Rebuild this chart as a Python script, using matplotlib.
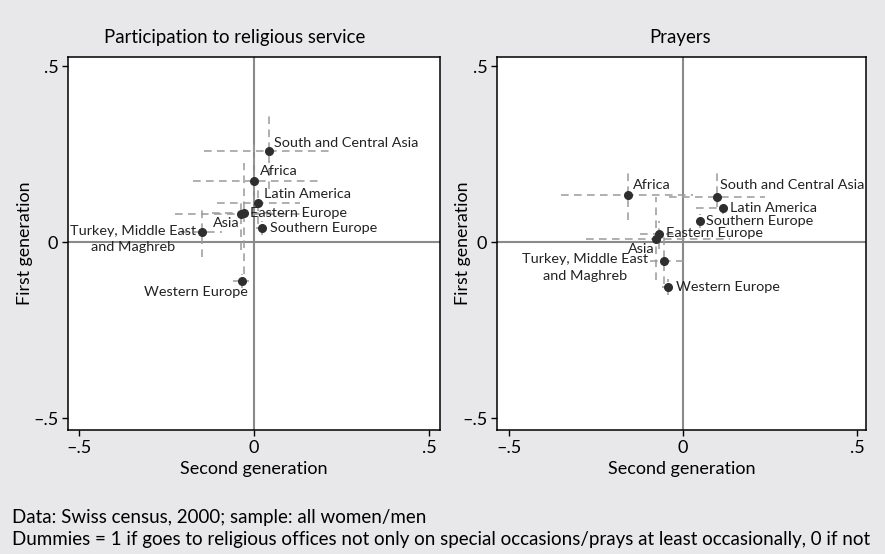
import numpy as np
import matplotlib.pyplot as plt

plt.rcParams['font.family'] = ['Lato', 'DejaVu Sans']

# regions (same order in both panels)
regions = ["South and Central Asia", "Africa", "Latin America", "Eastern Europe",
           "Asia", "Southern Europe", "Turkey, Middle East\nand Maghreb", "Western Europe"]

# Participation to religious service: second gen (x), first gen (y) + CI
part_x = [0.041, 0.000, 0.011, -0.029, -0.039, 0.021, -0.150, -0.034]
part_y = [0.259, 0.174, 0.112, 0.082, 0.079, 0.039, 0.028, -0.111]
part_xlo = [-0.142, -0.174, -0.106, -0.120, -0.225, 0.005, -0.210, -0.060]
part_xhi = [0.221, 0.188, 0.131, 0.060, 0.130, 0.040, -0.092, -0.015]
part_ylo = [0.150, 0.070, 0.050, -0.090, -0.023, 0.020, -0.042, -0.130]
part_yhi = [0.367, 0.280, 0.150, 0.225, 0.119, 0.060, 0.105, -0.090]

# Prayers
pray_x = [0.098, -0.158, 0.114, -0.069, -0.078, 0.049, -0.055, -0.044]
pray_y = [0.128, 0.135, 0.097, 0.022, 0.009, 0.059, -0.054, -0.127]
pray_xlo = [-0.040, -0.349, 0.039, -0.122, -0.277, 0.040, -0.095, -0.060]
pray_xhi = [0.236, 0.030, 0.130, -0.020, 0.135, 0.060, 0.015, -0.025]
pray_ylo = [0.100, 0.062, 0.080, -0.020, -0.108, 0.040, -0.120, -0.150]
pray_yhi = [0.205, 0.210, 0.115, 0.060, 0.129, 0.080, 0.015, -0.105]

ticks = [-0.5, 0, 0.5]
tick_labels = ["\u2013.5", "0", ".5"]

# label placement (offset in points, ha)
part_lab = [(4, 6, 'left'), (4, 7, 'left'), (4, 6, 'left'), (4, 0, 'left'),
            (-1, -6, 'right'), (6, 0, 'left'), (-4, 0, 'right'), (4, -8, 'right')]
pray_lab = [(2, 9, 'left'), (4, 7, 'left'), (5, 0, 'left'), (5, 1, 'left'),
            (-1, -7, 'right'), (4, 0, 'left'), (-11, 0, 'right'), (6, 0, 'left')]

bg = '#e8e8ea'
fig = plt.figure(figsize=(8.85, 5.54), dpi=100, facecolor=bg)


def panel(rect, title, title_x, x, y, xlo, xhi, ylo, yhi, labs, xlim, ylab_x):
    ax = fig.add_axes(rect)
    ax.set_facecolor('white')
    x = np.array(x); y = np.array(y)
    ax.axhline(0, color='#8a8a8a', lw=1.5, zorder=1)
    ax.axvline(0, color='#8a8a8a', lw=1.5, zorder=1)
    eb = ax.errorbar(x, y,
                     xerr=[x - np.array(xlo), np.array(xhi) - x],
                     yerr=[y - np.array(ylo), np.array(yhi) - y],
                     fmt='o', color='#2e2e2e', ms=5.5, ecolor='#9a9a9a',
                     elinewidth=1.1, capsize=0, zorder=3)
    for b in eb[2]:
        b.set_linestyle((0, (5, 3.5)))
    for i, name in enumerate(regions):
        dx, dy, ha = labs[i]
        va = 'center'
        if '\n' in name:
            va = 'top'
            dy = 5.5
        ax.annotate(name, (x[i], y[i]), xytext=(dx, dy), textcoords='offset points',
                    ha=ha, va=va, fontsize=10.4, color='#222222',
                    multialignment='center', linespacing=1.45, zorder=4)
    ax.set_xlim(xlim)
    ax.set_ylim(-0.534, 0.526)
    ax.set_xticks(ticks)
    ax.set_xticklabels(tick_labels)
    ax.set_yticks(ticks)
    ax.set_yticklabels(tick_labels)
    ax.tick_params(labelsize=13, length=4, width=1, color='black', pad=3)
    for s in ax.spines.values():
        s.set_linewidth(1.1)
    fig.text(title_x / 885, 1 - 38 / 554, title, fontsize=13.4, ha='center', va='center')
    ax.set_xlabel("Second generation", fontsize=13, labelpad=4)
    ax.set_ylabel("First generation", fontsize=12.8)
    ax.yaxis.set_label_coords(ylab_x, 0.5)
    return ax


panel([68 / 885, 1 - 430 / 554, 372 / 885, 373 / 554], "Participation to religious service", 235,
      part_x, part_y, part_xlo, part_xhi, part_ylo, part_yhi, part_lab, (-0.531, 0.530), -0.094)
panel([497 / 885, 1 - 430 / 554, 369 / 885, 373 / 554], "Prayers", 680,
      pray_x, pray_y, pray_xlo, pray_xhi, pray_ylo, pray_yhi, pray_lab, (-0.534, 0.526), -0.071)

fig.text(12 / 885, 1 - 517 / 554, "Data: Swiss census, 2000; sample: all women/men",
         fontsize=13.5, va='center')
fig.text(12 / 885, 1 - 540 / 554,
         "Dummies = 1 if goes to religious offices not only on special occasions/prays at least occasionally, 0 if not",
         fontsize=13.5, va='center')

plt.savefig("out.png", dpi=100, facecolor=bg)
